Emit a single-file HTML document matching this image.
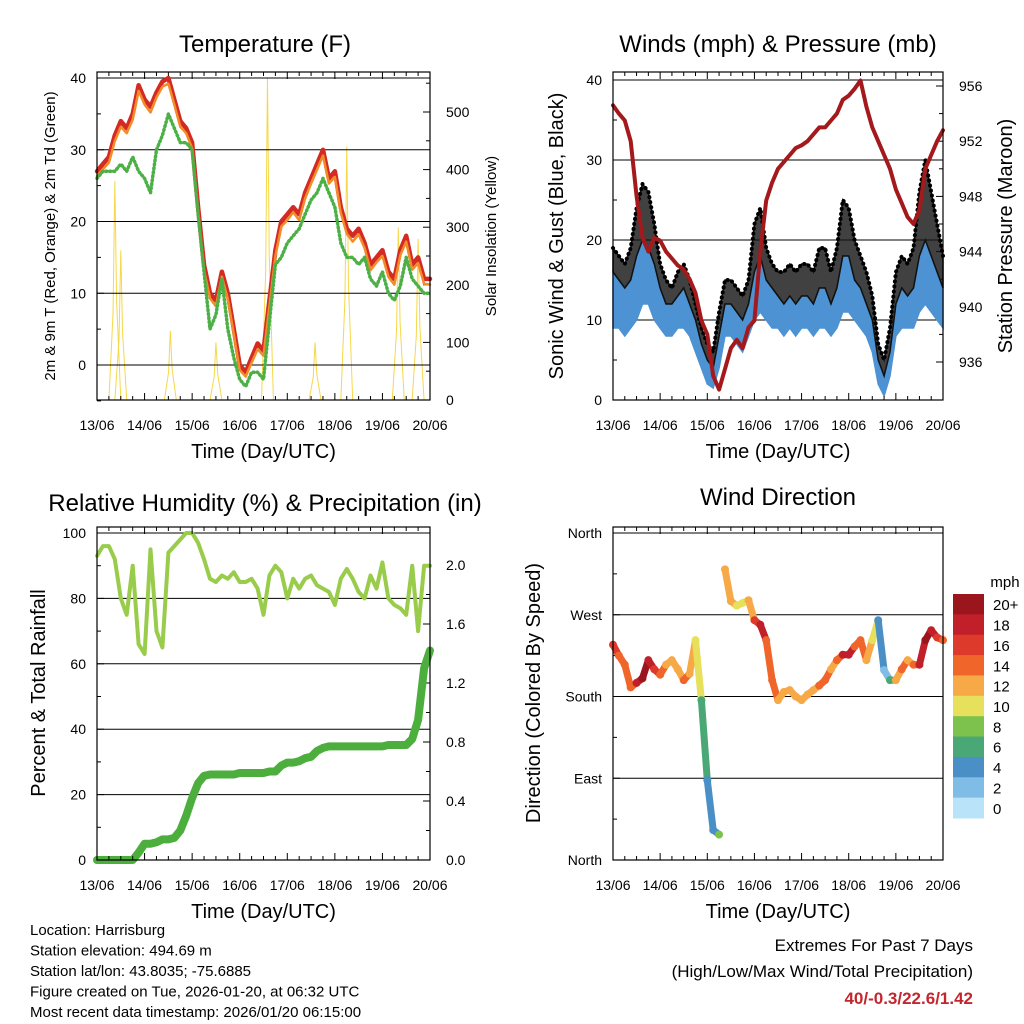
<!DOCTYPE html>
<html><head><meta charset="utf-8"><style>
body{margin:0;background:#fff}
svg{display:block;font-family:"Liberation Sans",sans-serif}
</style></head><body>
<svg id="s" width="1024" height="1024" viewBox="0 0 1024 1024" xmlns="http://www.w3.org/2000/svg"></svg>
<script>
const hours = Array.from({length:57},(_,i)=>i*3);
const dayLabels = ["13/06","14/06","15/06","16/06","17/06","18/06","19/06","20/06"];
const temp9m = [27,28,29,32,34,33,35,39, 37,36,38,39.5,40,37,34,33, 31,22,14,10,9,13,10,5, 0,-1,1,3,2,9,16,20, 21,22,21,24,26,28,30,26, 27,22,19,18,19,17,14,15, 16,13,12,16,18,14,15,12, 12];
const temp2m = [26.3,27.3,28.2,31.2,33.2,32.3,34.2,38.2, 36.3,35.2,37.3,38.8,39.2,36.3,33.2,32.3, 30.2,21.3,13.2,9.3,8.2,12.3,9.2,4.3, -0.7,-1.6,0.3,2.2,1.3,8.2,15.2,19.3, 20.2,21.3,20.2,23.2,25.3,27.2,29.2,25.3, 26.2,21.2,18.3,17.2,18.2,16.3,13.2,14.3, 15.2,12.3,11.2,15.3,17.2,13.3,14.2,11.3, 11.2];
const dewpt = [26,27,27,27,28,27,29,27, 26,24,30,32,35,33,31,31, 30,21,13,5,7,12,5,1, -2,-3,-1,-1,-2,6,14,15, 17,18,19,21,23,24,26,24, 22,17,15,15,14,15,12,11, 13,10,9,11,15,12,11,10, 10];
const solarHour = [9,12,37,60,86,110,126,152,162];
const solarPeak = [380,260,120,100,560,100,440,300,280];
const windHi = [16,15,14,15,18,20,19,17, 14,12,12,13,14,12,10,7, 5,4,8,12,12,11,10,12, 16,18,15,14,13,12,13,12, 13,13,12,14,14,12,14,18, 18,15,14,12,10,5,3,6, 12,14,13,14,18,20,18,16, 14];
const windLo = [9,9,8,9,10,12,12,10, 9,8,8,9,9,8,6,4, 2,1.5,4,8,8,7,6,8, 10,11,10,9,9,8,9,8, 9,9,8,9,9,8,9,11, 11,10,9,8,6,2,0.5,3, 8,9,9,9,11,12,11,10, 9];
const gust = [19,18,17,19,24,27,26,22, 17,15,14,16,17,15,12,9, 7,6,11,15,15,14,13,15, 22,24,19,17,16,16,17,16, 17,17,16,19,19,16,19,25, 24,20,18,16,13,7,5,9, 16,18,17,19,26,30,26,22, 18];
const pressure = [954.6,954,953.5,952,948,945,944,945, 944.8,944,943.5,943,942.7,942,941,939, 938,935,934,935.5,937,937.6,937,938.5, 939,944,947.7,949,950,950.5,951,951.5, 951.7,952,952.5,953,953,953.5,954,955, 955.3,955.8,956.4,954.5,953,952,951,950, 948.5,947.5,946.5,946,947,950,951,952, 952.8];
const rh = [93,96,96,92,80,75,90,66, 63,95,70,65,94,96,98,100, 100,97,92,86,85,87,86,88, 85,85,86,83,75,87,90,88, 80,86,83,86,87,84,83,82, 78,86,89,86,82,80,87,83, 91,80,78,77,75,90,70,90, 90];
const precip = [0,0,0,0,0,0,0,0.05, 0.11,0.11,0.12,0.14,0.14,0.15,0.2,0.3, 0.42,0.52,0.57,0.58,0.58,0.58,0.58,0.58, 0.59,0.59,0.59,0.59,0.59,0.6,0.6,0.64, 0.66,0.66,0.67,0.69,0.7,0.74,0.76,0.77, 0.77,0.77,0.77,0.77,0.77,0.77,0.77,0.77, 0.77,0.78,0.78,0.78,0.78,0.82,0.95,1.3, 1.42];
const windDir = [237,225,215,190,195,200,220,210, 204,215,220,210,198,205,242,176, 88,33,28,320,285,280,283,286, 264,259,242,198,176,185,187,180, 176,182,187,192,198,210,220,226, 226,235,242,220,242,264,209,198, 198,210,220,215,215,242,253,245, 242];
const speedLabels = ["20+","18","16","14","12","10","8","6","4","2","0"];
const speedColors = ["#9b161c","#c1202a","#de3a2b","#f0652a","#f7a948","#e6e05c","#7cc24c","#4aa877","#4a8fc6","#7fbce6","#b9e3f8"];

const S = document.getElementById('s');
const NS = "http://www.w3.org/2000/svg";
function el(tag, attrs, parent){const e=document.createElementNS(NS,tag);for(const k in attrs)e.setAttribute(k,attrs[k]);(parent||S).appendChild(e);return e;}
function txt(str, x, y, size, anchor, parent, extra){const t=el('text',Object.assign({x:x,y:y,'font-size':size,'text-anchor':anchor||'middle',fill:'#000'},extra||{}),parent);t.textContent=str;return t;}
function lin(d0,d1,r0,r1){return v=>r0+(v-d0)*(r1-r0)/(d1-d0);}

function panel(name,x0,x1,y0,y1){
  const g=el('g',{});
  
  
  return {g,x0,x1,y0,y1,xs:lin(0,168,x0,x1)};
}
function frame(P){
  const r=el('rect',{x:P.x0,y:P.y0,width:P.x1-P.x0,height:P.y1-P.y0,fill:'none',stroke:'#000','stroke-width':1.2},P.g);
  
  
}
function xAxis(P){
  const ax=el('g',{},P.g);
  
  
  for(let h=0;h<=168;h+=6){
    const x=P.xs(h);const major=h%24===0;
    el('line',{x1:x,x2:x,y1:P.y1,y2:P.y1-(major?7:4),stroke:'#000','stroke-width':1},ax);
    el('line',{x1:x,x2:x,y1:P.y0,y2:P.y0+(major?7:4),stroke:'#000','stroke-width':1},ax);
  }
  dayLabels.forEach((l,i)=>{const t=txt(l,P.xs(i*24),P.y1+30,14,'middle',ax);
    
    });
  const tt=txt('Time (Day/UTC)',(P.x0+P.x1)/2,P.y1+58,20,'middle',ax);
  
  
}
function yTicks(P,ys,ticks,labels,side,minor,grid){
  const ax=el('g',{},P.g);
  
  
  const xb=side==='l'?P.x0:P.x1, dir=side==='l'?1:-1;
  minor.forEach(v=>{const y=ys(v);el('line',{x1:xb,x2:xb+dir*4,y1:y,y2:y,stroke:'#000'},ax);});
  ticks.forEach((v,i)=>{const y=ys(v);
    el('line',{x1:xb,x2:xb+dir*7,y1:y,y2:y,stroke:'#000'},ax);
    if(grid) el('line',{x1:P.x0,x2:P.x1,y1:y,y2:y,stroke:'#000','stroke-width':1},ax);
    const t=txt(labels[i],side==='l'?xb-11:xb+16,y+5,14,side==='l'?'end':'start',ax);
    
    });
}
function ytitle(str,x,y,size,P,name){
  const t=txt(str,x,y,size,'middle',P.g,{transform:`rotate(-90 ${x} ${y})`});
  
  
}
function title(str,x,y,P){const t=txt(str,x,y,24,'middle',P.g);
  
  }
function path(P,arr,ys,color,w,name,dash){
  const d=arr.map((v,i)=>(i?'L':'M')+P.xs(hours[i]).toFixed(1)+','+ys(v).toFixed(1)).join('');
  const p=el('path',{d:d,fill:'none',stroke:color,'stroke-width':w,'stroke-linejoin':'round','stroke-linecap':'round'},P.g);
  if(dash)p.setAttribute('stroke-dasharray',dash);
  
  
  return p;
}
function band(P,lo,hi,ys,color,name,op){
  let d=hi.map((v,i)=>(i?'L':'M')+P.xs(hours[i]).toFixed(1)+','+ys(v).toFixed(1)).join('');
  for(let i=lo.length-1;i>=0;i--)d+='L'+P.xs(hours[i]).toFixed(1)+','+ys(lo[i]).toFixed(1);
  const p=el('path',{d:d+'Z',fill:color,stroke:color,'stroke-width':1.5,'fill-opacity':op||1},P.g);
  
  
}

/* Panel 1: Temperature */
const P1=panel('temperature-panel',97,430,72,400);
const t1=lin(0,40,365,78), sol=lin(0,500,400,112);
title('Temperature (F)',265,52,P1);
const sg=el('g',{},P1.g);


solarHour.forEach((h,i)=>{
  const xc=P1.xs(h), w=P1.xs(3)-P1.xs(0);
  const p=el('path',{d:`M${xc-w},${sol(0)}L${xc-w*0.3},${sol(solarPeak[i]*0.4)}L${xc},${sol(solarPeak[i])}L${xc+w*0.3},${sol(solarPeak[i]*0.45)}L${xc+w},${sol(0)}`,fill:'none',stroke:'#f5d84a','stroke-width':1},sg);
  
  
});
yTicks(P1,t1,[0,10,20,30,40],['0','10','20','30','40'],'l',[-5,5,15,25,35],true);
yTicks(P1,sol,[0,100,200,300,400,500],['0','100','200','300','400','500'],'r',[50,150,250,350,450,550],false);
path(P1,temp9m,t1,'#d42a24',4.5,'temp-9m-red-line');
path(P1,temp2m,t1,'#f28c28',2.5,'temp-2m-orange-line');
path(P1,dewpt,t1,'#4cb047',3.5,'dewpoint-green-dots','1 3');
el('line',{x1:97,x2:430,y1:72,y2:72,stroke:'#000'},P1.g);
frame(P1);xAxis(P1);
ytitle('2m & 9m T (Red, Orange) & 2m Td (Green)',55,236,15,P1,'y-axis-title-left');
ytitle('Solar Insolation (Yellow)',496,236,15,P1,'y-axis-title-right');

/* Panel 2: Winds */
const P2=panel('winds-pressure-panel',613,943,72,400);
const w2=lin(0,40,400,80), pr=lin(936,956,362,86);
title('Winds (mph) & Pressure (mb)',778,52,P2);
yTicks(P2,w2,[0,10,20,30,40],['0','10','20','30','40'],'l',[5,15,25,35],true);
yTicks(P2,pr,[936,940,944,948,952,956],['936','940','944','948','952','956'],'r',[938,942,946,950,954],false);
band(P2,windLo,windHi,w2,'#4d92d2','wind-speed-blue-band');
band(P2,windHi,gust,w2,'#111','wind-gust-black-band',0.8);
path(P2,gust,w2,'#000',4,'wind-gust-dots','0.1 5');
path(P2,pressure,pr,'#a3191c',4,'pressure-maroon-line');
el('line',{x1:613,x2:943,y1:72,y2:72,stroke:'#000'},P2.g);
frame(P2);xAxis(P2);
ytitle('Sonic Wind & Gust (Blue, Black)',563,236,20,P2,'y-axis-title-left');
ytitle('Station Pressure (Maroon)',1012,236,20,P2,'y-axis-title-right');

/* Panel 3: RH & precip */
const P3=panel('humidity-precip-panel',97,430,527,860);
const rhS=lin(0,100,860,533), pS=lin(0,2,860,565);
title('Relative Humidity (%) & Precipitation (in)',265,511,P3);
yTicks(P3,rhS,[0,20,40,60,80,100],['0','20','40','60','80','100'],'l',[10,30,50,70,90],true);
yTicks(P3,pS,[0,0.4,0.8,1.2,1.6,2.0],['0.0','0.4','0.8','1.2','1.6','2.0'],'r',[0.2,0.6,1.0,1.4,1.8],false);
path(P3,rh,rhS,'#98cc4a',4,'relative-humidity-line');
path(P3,precip,pS,'#4cae3c',8,'precipitation-total-line');
frame(P3);xAxis(P3);
ytitle('Percent & Total Rainfall',45,693,20,P3,'y-axis-title-left');

/* Panel 4: wind direction */
const P4=panel('wind-direction-panel',613,943,527,860);
const dS=lin(0,360,860,533);
title('Wind Direction',778,505,P4);
yTicks(P4,dS,[0,90,180,270,360],['North','East','South','West','North'],'l',[45,135,225,315],true);
function colorFor(v){const idx=Math.min(10,Math.floor(v/2));return speedColors[10-idx];}
for(let i=0;i<windDir.length-1;i++){
  if(Math.abs(windDir[i+1]-windDir[i])>150)continue;
  const s=el('line',{x1:P4.xs(hours[i]),y1:dS(windDir[i]),x2:P4.xs(hours[i+1]),y2:dS(windDir[i+1]),stroke:colorFor(windHi[i]),'stroke-width':7,'stroke-linecap':'round'},P4.g);
  
  
}
windDir.forEach((v,i)=>{
  const c=el('circle',{cx:P4.xs(hours[i]),cy:dS(v),r:4,fill:colorFor(windHi[i])},P4.g);
  
  
});
frame(P4);xAxis(P4);
ytitle('Direction (Colored By Speed)',540,693,20,P4,'y-axis-title-left');
const cb=el('g',{});


txt('mph',1005,587,15,'middle',cb);
const bh=(818-594)/11;
speedLabels.forEach((l,i)=>{
  const r=el('rect',{x:953,y:594+i*bh,width:31,height:bh+0.5,fill:speedColors[i]},cb);
  
  
  txt(l,993,594+i*bh+bh/2+6,15,'start',cb);
});

/* Footer */
const ft=el('g',{});


['Location: Harrisburg','Station elevation: 494.69 m','Station lat/lon: 43.8035; -75.6885','Figure created on Tue, 2026-01-20, at 06:32 UTC','Most recent data timestamp: 2026/01/20 06:15:00'].forEach((s,i)=>txt(s,30,935+i*20.5,15,'start',ft));
const ex=el('g',{});


txt('Extremes For Past 7 Days',973,951,17,'end',ex);
txt('(High/Low/Max Wind/Total Precipitation)',973,977,17,'end',ex);
txt('40/-0.3/22.6/1.42',973,1004,17,'end',ex,{fill:'#c4262e','font-weight':'bold'});
</script>
</body></html>
